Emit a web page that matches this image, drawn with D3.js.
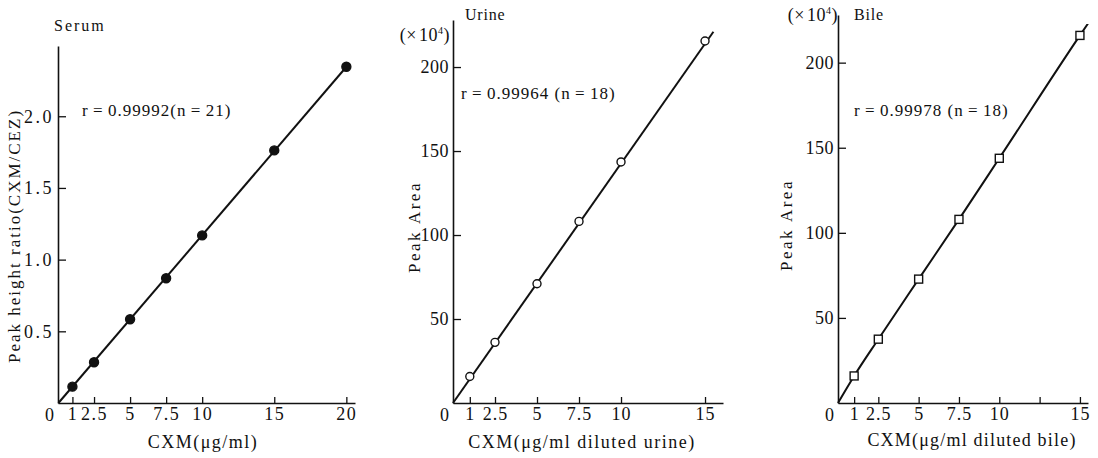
<!DOCTYPE html>
<html>
<head>
<meta charset="utf-8">
<script src="https://cdn.jsdelivr.net/npm/d3@7"></script>
<style>
  body { margin: 0; background: #fff; }
  text { font-family: "Liberation Serif", "DejaVu Serif", serif; fill: #111; }
</style>
</head>
<body>
<svg></svg>
<script>
var w = 1098;
var h = 458;

// Serum
var serumX = [1, 2.5, 5, 7.5, 10, 15, 20];
var serumY = [0.114, 0.284, 0.584, 0.87, 1.169, 1.762, 2.345];
var serumLineX = [0.03, 20.2];
var serumLineY = [0, 2.368];
var serumXTicks = [1, 2.5, 5, 7.5, 10, 15, 20];
var serumYTicks = [0.5, 1.0, 1.5, 2.0];

// Urine
var urineX = [1, 2.5, 5, 7.5, 10, 15];
var urineY = [15.8, 36.1, 71.0, 108.1, 143.5, 215.5];
var urineLineX = [0, 15.5];
var urineLineY = [0, 221];
var urineXTicks = [1, 2.5, 5, 7.5, 10, 15];
var urineYTicks = [50, 100, 150, 200];

// Bile
var bileX = [1, 2.5, 5, 7.5, 10, 15];
var bileY = [15.9, 37.5, 72.8, 107.9, 143.8, 216];
var bileLineX = [0, 1, 2.5, 5, 7.5, 10, 15, 15.5];
var bileLineY = [0, 15.9, 37.5, 72.8, 107.9, 143.8, 216, 223];
var bileXTicks = [1, 2.5, 5, 7.5, 10, 12.5, 15];
var bileXLabels = ["1", "2.5", "5", "7.5", "10", "", "15"];
var bileYTicks = [50, 100, 150, 200];

var svg = d3.select("svg").attr("width", w).attr("height", h);

var panels = [
  {
    title: "Serum", titleX: 54, titleY: 31, titleLs: 2,
    xs: serumX, ys: serumY, lx: serumLineX, ly: serumLineY,
    xTicks: serumXTicks, xLabels: serumXTicks.map(String),
    yTicks: serumYTicks, yFmt: d3.format(".1f"), xTickLs: 1.5, yTickLs: 2.5,
    xDom: [0, 20.6], xRange: [58, 355], yDom: [0, 2.49], yRange: [403, 46],
    r: "r\u2009=\u20090.99992(n\u2009=\u200921)", rX: 82, rY: 116,
    yLabel: "Peak height ratio(CXM/CEZ)", yLabelX: 20, yLabelY: 236, yLs: 2,
    xLabel: "CXM(\u03bcg/ml)", xLabelX: 203, xLabelY: 448, xLs: 1.5,
    marker: "dot", unit: null
  },
  {
    title: "Urine", titleX: 465, titleY: 20, titleLs: 0.8,
    xs: urineX, ys: urineY, lx: urineLineX, ly: urineLineY,
    xTicks: urineXTicks, xLabels: urineXTicks.map(String),
    yTicks: urineYTicks, yFmt: d3.format("d"), xTickLs: 1, yTickLs: 0.5,
    xDom: [0, 16.07], xRange: [453, 723], yDom: [0, 228], yRange: [403, 20],
    r: "r\u2009=\u20090.99964 (n\u2009=\u200918)", rX: 461, rY: 99,
    yLabel: "Peak  Area", yLabelX: 420, yLabelY: 227, yLs: 2.5,
    xLabel: "CXM(\u03bcg/ml diluted urine)", xLabelX: 582, xLabelY: 448, xLs: 1.5,
    marker: "circle", unit: true, unitX: 450, unitY: 41
  },
  {
    title: "Bile", titleX: 854, titleY: 20, titleLs: 0.8,
    xs: bileX, ys: bileY, lx: bileLineX, ly: bileLineY,
    xTicks: bileXTicks, xLabels: bileXLabels,
    yTicks: bileYTicks, yFmt: d3.format("d"), xTickLs: 1, yTickLs: 0.5,
    xDom: [0, 15.5], xRange: [838, 1088], yDom: [0, 228], yRange: [403, 15],
    r: "r\u2009=\u20090.99978 (n\u2009=\u200918)", rX: 854, rY: 116,
    yLabel: "Peak  Area", yLabelX: 792, yLabelY: 225, yLs: 2.5,
    xLabel: "CXM(\u03bcg/ml  diluted bile)", xLabelX: 972, xLabelY: 446, xLs: 1.2,
    marker: "square", unit: true, unitX: 838, unitY: 21
  }
];

panels.forEach(function (p) {
  var x = d3.scaleLinear().domain(p.xDom).range(p.xRange);
  var y = d3.scaleLinear().domain(p.yDom).range(p.yRange);
  var g = svg.append("g");

  var xAxis = g.append("g")
    .attr("transform", "translate(0," + p.yRange[0] + ")")
    .call(d3.axisBottom(x)
      .tickValues(p.xTicks)
      .tickFormat(function (d, i) { return p.xLabels[i]; })
      .tickSizeInner(-6)
      .tickSizeOuter(0)
      .tickPadding(4));

  var yAxis = g.append("g")
    .attr("transform", "translate(" + p.xRange[0] + ",0)")
    .call(d3.axisLeft(y)
      .tickValues(p.yTicks)
      .tickFormat(p.yFmt)
      .tickSizeInner(-8)
      .tickSizeOuter(0)
      .tickPadding(4));

  [[xAxis, p.xTickLs], [yAxis, p.yTickLs]].forEach(function (pair) {
    var a = pair[0];
    a.attr("font-family", null).attr("font-size", null);
    a.select(".domain").attr("stroke", "#111").attr("stroke-width", 1.6);
    a.selectAll(".tick line").attr("stroke", "#111").attr("stroke-width", 1.3);
    a.selectAll(".tick text")
      .attr("font-size", 18)
      .attr("letter-spacing", pair[1])
      .style("fill", "#111");
  });

  // zero at origin
  g.append("text")
    .attr("x", p.xRange[0] - 4)
    .attr("y", p.yRange[0] + 5)
    .attr("dy", "0.71em")
    .attr("text-anchor", "end")
    .attr("font-size", 18)
    .text("0");

  // fitted line
  var lineData = p.lx.map(function (v, i) { return [v, p.ly[i]]; });
  g.append("path")
    .datum(lineData)
    .attr("fill", "none")
    .attr("stroke", "#111")
    .attr("stroke-width", 2)
    .attr("d", d3.line()
      .x(function (d) { return x(d[0]); })
      .y(function (d) { return y(d[1]); })
      .curve(d3.curveMonotoneX));

  var pts = p.xs.map(function (v, i) { return [v, p.ys[i]]; });
  if (p.marker === "square") {
    g.selectAll("rect.pt")
      .data(pts)
      .enter()
      .append("rect")
      .attr("class", "pt")
      .attr("x", function (d) { return x(d[0]) - 4; })
      .attr("y", function (d) { return y(d[1]) - 4; })
      .attr("width", 8)
      .attr("height", 8)
      .attr("fill", "#fff")
      .attr("stroke", "#111")
      .attr("stroke-width", 1.4);
  } else {
    g.selectAll("circle.pt")
      .data(pts)
      .enter()
      .append("circle")
      .attr("class", "pt")
      .attr("cx", function (d) { return x(d[0]); })
      .attr("cy", function (d) { return y(d[1]); })
      .attr("r", p.marker === "dot" ? 4.5 : 4)
      .attr("fill", p.marker === "dot" ? "#111" : "#fff")
      .attr("stroke", "#111")
      .attr("stroke-width", 1.4);
  }

  g.append("text")
    .attr("x", p.titleX)
    .attr("y", p.titleY)
    .attr("font-size", 16)
    .attr("letter-spacing", p.titleLs)
    .text(p.title);

  g.append("text")
    .attr("x", p.rX)
    .attr("y", p.rY)
    .attr("font-size", 17)
    .attr("letter-spacing", 1)
    .text(p.r);

  g.append("text")
    .attr("transform", "translate(" + p.yLabelX + "," + p.yLabelY + ") rotate(-90)")
    .attr("text-anchor", "middle")
    .attr("font-size", 17)
    .attr("letter-spacing", p.yLs)
    .text(p.yLabel);

  g.append("text")
    .attr("x", p.xLabelX)
    .attr("y", p.xLabelY)
    .attr("text-anchor", "middle")
    .attr("font-size", 18)
    .attr("letter-spacing", p.xLs)
    .text(p.xLabel);

  if (p.unit) {
    var u = g.append("text")
      .attr("x", p.unitX)
      .attr("y", p.unitY)
      .attr("text-anchor", "end")
      .attr("font-size", 18)
      .attr("letter-spacing", 0.5);
    u.append("tspan").text("(\u00d7\u200a10");
    u.append("tspan").attr("font-size", 10).attr("dy", -7).text("4");
    u.append("tspan").attr("dy", 7).text(")");
  }
});
</script>
</body>
</html>
